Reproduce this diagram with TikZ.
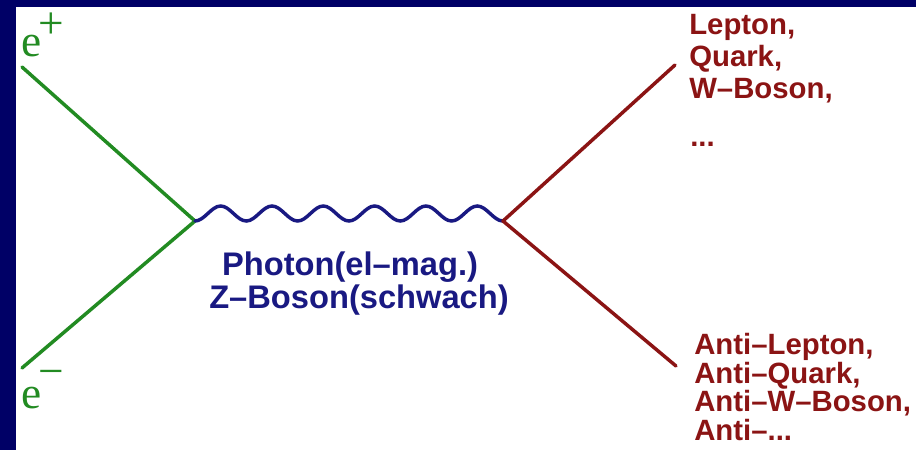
\documentclass[tikz,border=0pt]{standalone}
\usepackage{fontspec}
\setmainfont{Liberation Serif}
\setsansfont{Liberation Sans}
\definecolor{bgnavy}{RGB}{0,0,102}
\definecolor{ferm}{RGB}{34,139,34}
\definecolor{prod}{RGB}{139,20,20}
\definecolor{boson}{RGB}{25,25,130}

\begin{document}
\begin{tikzpicture}[x=0.75pt,y=-0.75pt,
  fermion/.style={draw=ferm,line width=2.6pt,line cap=round,line join=round},
  product/.style={draw=prod,line width=2.6pt,line cap=round,line join=round},
  photon/.style={draw=boson,line width=2.6pt,line cap=round},
  elab/.style={text=ferm,font=\fontsize{34pt}{40pt}\selectfont,inner sep=0pt},
  plab/.style={text=prod,font=\sffamily\bfseries\fontsize{22pt}{24pt}\selectfont,align=left,inner sep=0pt},
  alab/.style={plab,font=\sffamily\bfseries\fontsize{22pt}{21.5pt}\selectfont},
  blab/.style={text=boson,font=\sffamily\bfseries\fontsize{24.5pt}{24.75pt}\selectfont,inner sep=0pt}]
  \fill[bgnavy] (0,0) rectangle (916,450);
  \fill[white] (16,7) rectangle (916,450);

  \coordinate (ein) at (22,67);
  \coordinate (eout) at (22,368);
  \coordinate (v1) at (195,221);
  \coordinate (v2) at (503,221);
  \coordinate (fout) at (675,65);
  \coordinate (aout) at (676,366);

  \draw[fermion] (ein) -- (v1) -- (eout);
  \draw[photon] (v1) foreach \k in {1,...,6} {
    cos ++(12.83,-7.5) sin ++(12.83,-7.5) cos ++(12.83,7.5) sin ++(12.83,7.5)};
  \draw[product] (fout) -- (v2) -- (aout);

  \node[elab,anchor=base west] (eplus) at (21,56) {e\kern-.07em\raisebox{.38em}{+}};
  \node[elab,anchor=base west] (eminus) at (21,408) {e\kern-.07em\raisebox{.48em}{−}};

  \node[blab,anchor=base] (photlab) at (350,275) {Photon(el–mag.)};
  \node[blab,anchor=base] (zlab) at (359,308) {Z–Boson(schwach)};

  \node[plab,anchor=north west] (partlab) at (689,14) {Lepton,\\Quark,\\W–Boson,};
  \node[plab,anchor=base west] (dots) at (690,146) {...};
  \node[alab,anchor=north west] (antilab) at (694,333) {Anti–Lepton,\\Anti–Quark,\\Anti–W–Boson,\\Anti–...};
\end{tikzpicture}
\end{document}
